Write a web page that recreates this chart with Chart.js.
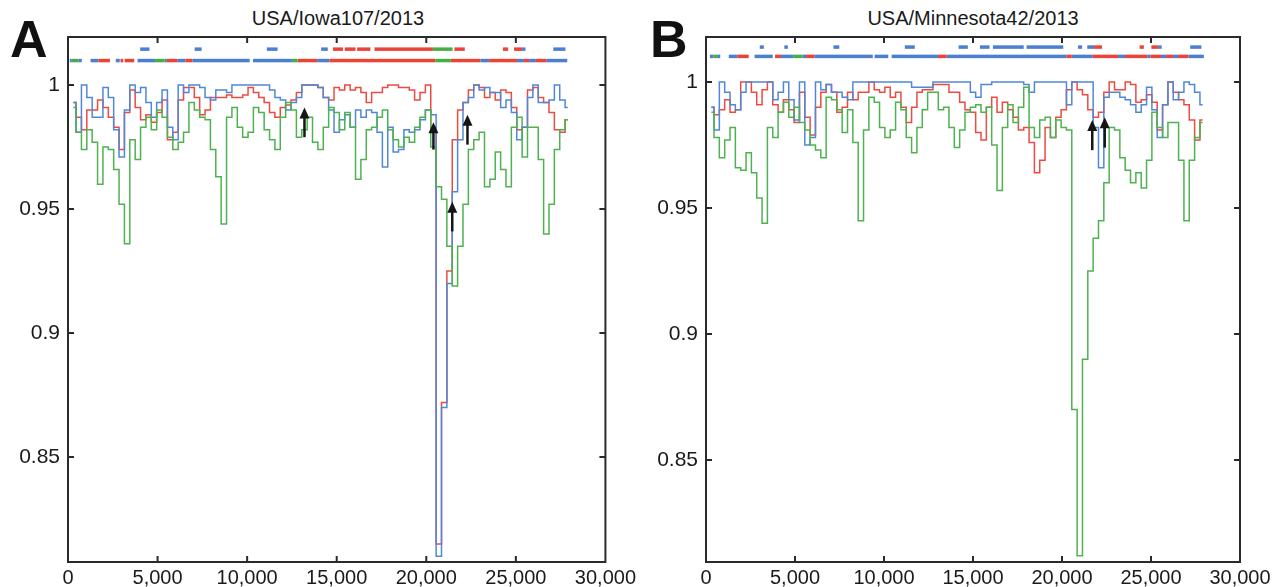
<!DOCTYPE html>
<html>
<head>
<meta charset="utf-8">
<script src="https://cdn.jsdelivr.net/npm/chart.js@4.4.1/dist/chart.umd.min.js"></script>
<style>
  html, body { margin: 0; padding: 0; background: #fff; }
  body { width: 1286px; height: 587px; position: relative; overflow: hidden;
         font-family: "Liberation Sans", Arial, sans-serif; color: #1a1a1a; }
  .panel { position: absolute; top: 0; width: 640px; height: 587px; }
  .letter { position: absolute; font-weight: bold; font-size: 52px; line-height: 1; color: #111; }
  .title { position: absolute; top: 8px; font-size: 20px; line-height: 1; transform: translateX(-50%); white-space: nowrap; }
</style>
</head>
<body>
<div class="letter" style="left:10px;top:13px">A</div>
<div class="title" style="left:338px">USA/Iowa107/2013</div>
<div class="letter" style="left:650px;top:13px">B</div>
<div class="title" style="left:973px">USA/Minnesota42/2013</div>
<div class="panel" style="left:0"><canvas id="chartA" width="640" height="587"></canvas></div>
<div class="panel" style="left:646px"><canvas id="chartB" width="640" height="587"></canvas></div>

<script>
// genome position of each similarity value (nt), one every 300
const POSITIONS = [];
for (let p = 300; p <= 27900; p += 300) POSITIONS.push(p);

// Panel A - USA/Iowa107/2013
const A_BLUE = [
  .993, .981, 1, .995, .987, .987, .999, .995, .982, .971,
  .990, 1, .997, .999, .993, .987, .993, .998, .983, .978,
  1, .997, 1, 1, .999, .995, .994, .998, .998, .997,
  1, 1, 1, 1, 1, 1, 1, .998, .995, .994,
  .990, .993, .995, 1, 1, 1, .999, .995, .990, .981,
  .986, .988, .983, .990, .987, .990, .989, .981, .967, .983,
  .973, .974, .982, .981, .982, .986, .990, .988, .810, .870,
  .920, .957, .978, .993, .995, 1, .998, .999, .997, .997,
  .991, .994, .989, .978, .983, .995, 1, .993, .993, .994,
  1, .994, .991
];
const A_RED = [
  .993, .987, .982, .990, .990, .994, .991, .987, .983, .974,
  .989, .998, .991, .986, .988, .985, .989, .994, .978, .981,
  .994, .999, .999, .995, .988, .990, .995, .995, .995, .996,
  .995, .995, .996, .999, .997, .995, .993, .989, .987, .991,
  .992, .994, .997, 1, 1, 1, .999, .995, .994, .999,
  .998, 1, .998, .999, .997, .993, .997, .997, .999, 1,
  1, .999, .999, .998, .994, .997, 1, .983, .815, .872,
  .925, .978, .990, .993, .998, 1, .999, .995, .997, .994,
  .998, .997, .991, .982, .983, .998, .999, .995, .993, .989,
  .982, .981, .986
];
const A_GREEN = [
  .991, .981, .974, .982, .977, .960, .975, .974, .966, .952,
  .936, .978, .970, .983, .987, .982, .990, .987, .979, .974,
  .977, .981, .993, .990, .987, .986, .974, .963, .944, .987,
  .991, .983, .979, .981, .991, .989, .982, .978, .974, .987,
  .993, .990, .979, .982, .987, .977, .974, .983, .991, .989,
  .982, .989, .983, .962, .970, .982, .983, .987, .990, .982,
  .978, .975, .979, .977, .983, .987, .990, .975, .959, .954,
  .935, .919, .935, .952, .974, .978, .981, .959, .962, .973,
  .966, .959, .983, .987, .971, .983, .983, .970, .940, .952,
  .974, .982, .986
];

// Panel B - USA/Minnesota42/2013
const B_BLUE = [
  .990, .981, 1, .996, .991, .989, .996, 1, 1, 1,
  1, 1, .993, .996, 1, .993, .985, 1, .975, .978,
  1, .997, .999, .996, .996, .994, .993, 1, 1, 1,
  1, 1, 1, 1, 1, 1, 1, 1, .998, .998,
  .998, .998, 1, 1, 1, 1, 1, 1, 1, .996,
  .994, .999, .999, 1, 1, 1, 1, 1, 1, .999,
  .996, 1, 1, 1, 1, 1, 1, .991, 1, 1,
  1, 1, .982, .966, .994, .996, .996, .994, .993, .991,
  .988, .991, .998, .989, .978, .991, 1, .993, .996, 1,
  .999, .996, .991
];
const B_RED = [
  .990, .987, .989, .993, .988, .989, 1, 1, .996, .991,
  .997, 1, .991, .988, .993, .989, .984, .996, .986, .979,
  .990, .996, .999, .996, .988, .990, .996, .993, .996, .996,
  1, .997, .996, .998, .994, .996, .990, .984, .990, .996,
  .997, .997, .999, .999, .999, .996, .996, .992, .989, .988,
  .980, .977, .990, .994, .988, .992, .989, .986, .981, .982,
  .976, .964, .969, .982, .978, .986, .989, .997, 1, .997,
  .995, .989, .986, .988, .996, 1, .997, .997, 1, .999,
  .992, .993, .995, .992, .981, .991, 1, .996, .993, .991,
  .985, .977, .985
];
const B_GREEN = [
  .988, .978, .970, .977, .982, .966, .965, .972, .964, .954,
  .944, .982, .978, .988, .992, .986, .990, .984, .981, .975,
  .973, .970, .994, .993, .989, .980, .989, .976, .945, .981,
  .994, .992, .982, .978, .981, .992, .989, .978, .972, .982,
  .989, .996, .996, .989, .990, .982, .974, .981, .988, .990,
  .991, .988, .990, .975, .957, .982, .991, .984, .990, .998,
  .982, .978, .985, .986, .978, .985, .982, .981, .870, .812,
  .890, .925, .938, .945, .960, .982, .981, .970, .965, .960,
  .964, .958, .969, .988, .982, .978, .984, .984, .969, .945,
  .969, .978, .984
];

// bootscan segments [start, end] (nt), lower and upper rows
const A_LOW_BLUE = [[100, 210], [600, 770], [1260, 1700], [2670, 2890], [3880, 4860], [5390, 5520],
  [6100, 6550], [6940, 10140], [10330, 12500], [13910, 14590], [23020, 23510], [25060, 25450],
  [25740, 26120], [26700, 27870]];
const A_LOW_RED = [[1700, 2340], [2930, 3080], [3160, 3700], [5520, 6100], [6550, 6940],
  [12810, 13910], [14590, 20500], [21370, 23020], [23510, 25060], [25450, 25740], [26120, 26700]];
const A_LOW_GREEN = [[210, 600], [4860, 5390], [12500, 12810], [20500, 21370]];
const A_TOP_BLUE = [[4030, 4550], [7070, 7460], [11100, 11700], [14130, 14500], [25350, 25540], [27090, 27770]];
const A_TOP_RED = [[14790, 15350], [15450, 16050], [16140, 16880], [17110, 20370], [21570, 22150],
  [24280, 24570], [24900, 25350]];
const A_TOP_GREEN = [[20370, 21470]];

const B_LOW_BLUE = [[220, 410], [670, 800], [1280, 1760], [2730, 3750], [4210, 4900], [5420, 5620],
  [6100, 9370], [9470, 10240], [10430, 13030], [13520, 20260], [20550, 21710], [23150, 23540],
  [24790, 24980], [25560, 25850], [26230, 26520], [27100, 27970]];
const B_LOW_RED = [[1760, 2400], [3880, 4210], [5620, 6100], [13030, 13520], [20260, 20550],
  [21710, 23150], [23540, 24790], [24980, 25560], [25850, 26230], [26520, 27100]];
const B_LOW_GREEN = [[410, 670], [4900, 5420]];
const B_TOP_BLUE = [[3020, 3250], [4400, 4600], [7160, 7490], [11170, 11730], [14190, 14710],
  [15390, 15930], [16120, 17850], [18010, 20070], [20900, 21130], [21420, 21800], [25400, 25600], [27200, 27830]];
const B_TOP_RED = [[21800, 22250], [24360, 24600], [25020, 25400]];
const B_TOP_GREEN = [];

// arrows: [position, tail similarity, head similarity]
const A_ARROWS = [[13200, 0.979, 0.991], [20400, 0.974, 0.985], [21450, 0.941, 0.953], [22300, 0.976, 0.988]];
const B_ARROWS = [[21700, 0.973, 0.985], [22400, 0.974, 0.986]];

const X_TICKS = [0, 5000, 10000, 15000, 20000, 25000, 30000];
const Y_TICKS = [0.85, 0.9, 0.95, 1];
const Y_TICK_LABELS = ['0.85', '0.9', '0.95', '1'];

const LINE_COLORS = { blue: '#5088d8', red: '#ec4b40', green: '#4db24f' };
const BAR_COLORS = { blue: '#4b80d0', red: '#ea4438', green: '#46ad47' };
const FONT = '"Liberation Sans", Arial, sans-serif';

function series(values) {
  return values.map((v, i) => ({ x: POSITIONS[i], y: v }));
}

function makePanel(id, p) {
  const overlay = {
    id: 'overlay',
    afterDatasetsDraw(chart) {
      const ctx = chart.ctx, a = chart.chartArea, x = chart.scales.x, y = chart.scales.y;
      ctx.save();

      // bootscan rows
      p.rows.forEach(row => {
        const py = y.getPixelForValue(row.level);
        ['blue', 'red', 'green'].forEach(c => {
          ctx.fillStyle = BAR_COLORS[c];
          row[c].forEach(([s, e]) => {
            const x1 = x.getPixelForValue(s), x2 = x.getPixelForValue(e);
            ctx.fillRect(x1, py - 1.75, x2 - x1, 3.5);
          });
        });
      });

      // arrows
      ctx.strokeStyle = '#151515';
      ctx.fillStyle = '#151515';
      p.arrows.forEach(([pos, tail, head]) => {
        const px = x.getPixelForValue(pos);
        const yt = y.getPixelForValue(tail), yh = y.getPixelForValue(head);
        ctx.lineWidth = 2.5;
        ctx.beginPath();
        ctx.moveTo(px, yt);
        ctx.lineTo(px, yh + 8);
        ctx.stroke();
        ctx.beginPath();
        ctx.moveTo(px, yh);
        ctx.lineTo(px - 5, yh + 11);
        ctx.lineTo(px + 5, yh + 11);
        ctx.closePath();
        ctx.fill();
      });

      // box and inward ticks
      ctx.strokeStyle = '#2a2a2a';
      ctx.lineWidth = 2;
      ctx.strokeRect(a.left, a.top, a.right - a.left, a.bottom - a.top);
      ctx.beginPath();
      X_TICKS.slice(1, -1).forEach(t => {
        const px = x.getPixelForValue(t);
        ctx.moveTo(px, a.bottom); ctx.lineTo(px, a.bottom - 6);
        ctx.moveTo(px, a.top); ctx.lineTo(px, a.top + 6);
      });
      Y_TICKS.forEach(t => {
        const py = y.getPixelForValue(t);
        ctx.moveTo(a.left, py); ctx.lineTo(a.left + 6, py);
        ctx.moveTo(a.right, py); ctx.lineTo(a.right - 6, py);
      });
      ctx.stroke();
      ctx.restore();
    }
  };

  const line = (values, color) => ({
    data: series(values),
    borderColor: color,
    borderWidth: 1.5,
    pointRadius: 0,
    stepped: 'middle',
    fill: false
  });

  // first dataset is painted last: green on top, then blue, red underneath
  return new Chart(document.getElementById(id), {
    type: 'line',
    data: {
      datasets: [
        line(p.green, LINE_COLORS.green),
        line(p.blue, LINE_COLORS.blue),
        line(p.red, LINE_COLORS.red)
      ]
    },
    options: {
      responsive: false,
      animation: false,
      events: [],
      layout: { padding: { top: 37, right: p.rightPad, left: 0, bottom: 0 } },
      plugins: { legend: { display: false }, tooltip: { enabled: false } },
      scales: {
        x: {
          type: 'linear',
          min: 0,
          max: 30000,
          afterBuildTicks: s => { s.ticks = X_TICKS.map(v => ({ value: v })); },
          afterFit: s => { s.height = 25; },
          ticks: {
            callback: v => v.toLocaleString('en-US'),
            font: { family: FONT, size: 20 },
            color: '#1a1a1a',
            padding: 4,
            maxRotation: 0,
            autoSkip: false
          },
          grid: { display: false, drawTicks: false },
          border: { display: false }
        },
        y: {
          type: 'linear',
          min: p.yMin,
          max: p.yMax,
          afterBuildTicks: s => { s.ticks = Y_TICKS.map(v => ({ value: v })); },
          afterFit: s => { s.width = p.axisWidth; },
          ticks: {
            callback: v => Y_TICK_LABELS[Y_TICKS.indexOf(v)],
            font: { family: FONT, size: 21 },
            color: '#1a1a1a',
            padding: 8
          },
          grid: { display: false, drawTicks: false },
          border: { display: false }
        }
      }
    },
    plugins: [overlay]
  });
}

makePanel('chartA', {
  blue: A_BLUE, red: A_RED, green: A_GREEN,
  rows: [
    { level: 1.0099, blue: A_LOW_BLUE, red: A_LOW_RED, green: A_LOW_GREEN },
    { level: 1.0145, blue: A_TOP_BLUE, red: A_TOP_RED, green: A_TOP_GREEN }
  ],
  arrows: A_ARROWS,
  yMin: 0.8077, yMax: 1.0194,
  axisWidth: 68, rightPad: 32
});

makePanel('chartB', {
  blue: B_BLUE, red: B_RED, green: B_GREEN,
  rows: [
    { level: 1.0102, blue: B_LOW_BLUE, red: B_LOW_RED, green: B_LOW_GREEN },
    { level: 1.0139, blue: B_TOP_BLUE, red: B_TOP_RED, green: B_TOP_GREEN }
  ],
  arrows: B_ARROWS,
  yMin: 0.8095, yMax: 1.0179,
  axisWidth: 60, rightPad: 46
});
</script>
</body>
</html>
